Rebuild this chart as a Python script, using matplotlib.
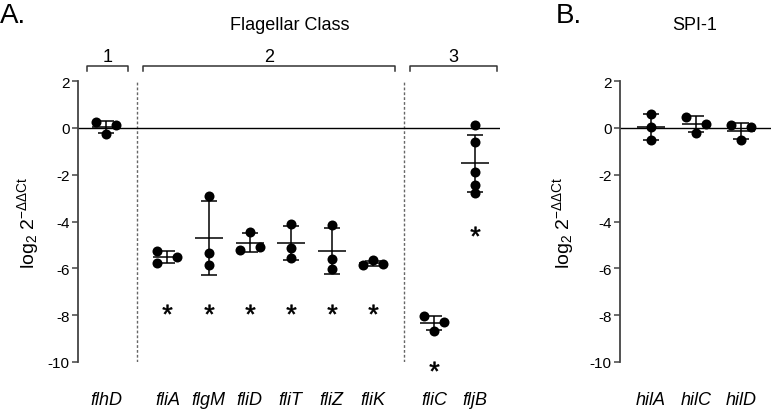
import numpy as np
import matplotlib
matplotlib.use("Agg")
import matplotlib.pyplot as plt

plt.rcParams['font.family'] = ['Liberation Sans', 'DejaVu Sans']
plt.rcParams['mathtext.fontset'] = 'custom'
plt.rcParams['mathtext.rm'] = 'Liberation Sans'
plt.rcParams['mathtext.it'] = 'Liberation Sans:italic'

# ---- data (log2 2^-ddCt) ----
genes_a = ['flhD', 'fliA', 'flgM', 'fliD', 'fliT', 'fliZ', 'fliK', 'fliC', 'fljB']
class_a = [1, 2, 2, 2, 2, 2, 2, 3, 3]
vals_a = [
    [0.27, 0.10, -0.26],
    [-5.27, -5.76, -5.52],
    [-2.89, -5.35, -5.87],
    [-4.45, -5.20, -5.09],
    [-4.12, -5.12, -5.54],
    [-4.15, -5.59, -6.01],
    [-5.66, -5.81, -5.87],
    [-8.05, -8.29, -8.67],
    [0.10, -0.61, -1.89, -2.42, -2.78],
]
star_a = [None, -7.72, -7.72, -7.72, -7.72, -7.72, -7.72, -10.15, -4.4]

genes_b = ['hilA', 'hilC', 'hilD']
vals_b = [
    [0.58, 0.05, -0.52],
    [0.48, 0.17, -0.20],
    [0.10, 0.04, -0.52],
]

yticks = [2, 0, -2, -4, -6, -8, -10]
ylabel = r'log$_2$ 2$^{\mathrm{-\Delta\Delta Ct}}$'


def px_scale(ax):
    p0 = ax.transData.transform([[0, 0]])[0]
    p1 = ax.transData.transform([[1, 1]])[0]
    return p1[0] - p0[0], abs(p1[1] - p0[1])


def scatter_offsets(ax, vals, dmin=8.0, spread=20.0):
    # column-style scatter: points closer than dmin px vertically get pushed
    # into side columns, each cluster is centred and fitted to `spread` px
    sx, sy = px_scale(ax)
    y = np.asarray(vals) * sy
    slots = []
    for i, yi in enumerate(y):
        taken = {slots[j] for j in range(i) if abs(y[j] - yi) < dmin}
        for k in [0, 1, -1, 2, -2, 3, -3]:
            if k not in taken:
                slots.append(k)
                break
    slots = np.array(slots, dtype=float)
    order = np.argsort(-y)
    clusters = [[order[0]]]
    for a, b in zip(order[:-1], order[1:]):
        if abs(y[a] - y[b]) < dmin:
            clusters[-1].append(b)
        else:
            clusters.append([b])
    off = np.zeros(len(y))
    for cl in clusters:
        s = slots[cl]
        lo, hi = s.min(), s.max()
        if hi > lo:
            off[cl] = (s - (lo + hi) / 2) * spread / (hi - lo)
    return off / sx


def draw_group(ax, x, vals, mean_hw=14, cap_hw=8):
    sx, _ = px_scale(ax)
    vals = np.asarray(vals)
    xs = x + scatter_offsets(ax, vals)
    ax.scatter(xs, vals, s=52, color='black', zorder=3, linewidths=0)
    m = vals.mean()
    s = vals.std(ddof=1)
    kw = dict(color='black', lw=1.1, zorder=4, solid_capstyle='butt')
    ax.plot([x - mean_hw / sx, x + mean_hw / sx], [m, m], **kw)
    ax.plot([x, x], [m - s, m + s], **kw)
    for e in (m - s, m + s):
        ax.plot([x - cap_hw / sx, x + cap_hw / sx], [e, e], **kw)


def style_axis(ax):
    for sp in ['top', 'right', 'bottom']:
        ax.spines[sp].set_visible(False)
    ax.spines['left'].set_color('#444444')
    ax.spines['left'].set_linewidth(1.3)
    ax.set_ylim(-10, 2)
    ax.set_yticks(yticks)
    ax.set_yticklabels([str(t) for t in yticks], fontsize=11)
    ax.tick_params(axis='y', length=4, width=1.1, color='#444444', pad=2)
    ax.tick_params(axis='x', length=0, pad=21)
    ax.axhline(0, color='black', lw=1.0, zorder=2)


W, H = 771, 414
fig = plt.figure(figsize=(W / 100, H / 100), dpi=100)

# ---- panel A ----
axA = fig.add_axes([78 / W, 1 - 363 / H, 422 / W, 281 / H])
axA.set_xlim(-0.68, 9.6)
style_axis(axA)
pos_a = [i + 0.5 * (c - 1) for i, c in enumerate(class_a)]
for x, v in zip(pos_a, vals_a):
    draw_group(axA, x, v)
star_x = [x for x, sy in zip(pos_a, star_a) if sy is not None]
star_y = [sy for sy in star_a if sy is not None]
axA.scatter(star_x, star_y, marker='$*$', s=48, color='black', linewidths=0.4,
            edgecolors='black', clip_on=False, zorder=3)
axA.set_xticks(pos_a)
axA.set_xticklabels(genes_a, fontstyle='italic', fontsize=13)

# class separators and brackets
for c in sorted(set(class_a))[:-1]:
    last = max(p for p, k in zip(pos_a, class_a) if k == c)
    nxt = min(p for p, k in zip(pos_a, class_a) if k == c + 1)
    axA.plot([(last + nxt) / 2] * 2, [-10, 2], color='#666666', lw=1.0,
             ls=(0, (2, 1.5)), zorder=1)
for c in sorted(set(class_a)):
    ps = [p for p, k in zip(pos_a, class_a) if k == c]
    x0 = min(ps) - (0.45 if c == 1 else 0.59)
    x1 = max(ps) + 0.53
    axA.plot([x0, x0, x1, x1], [2.44, 2.66, 2.66, 2.44], color='#333333', lw=1.1,
             clip_on=False)
    axA.text((x0 + x1) / 2, 3.06, str(c), ha='center', va='center', fontsize=13,
             clip_on=False)
axA.set_ylabel(ylabel, fontsize=14, va='center')
axA.yaxis.set_label_coords(-50 / 422, 0.5)

# ---- panel B ----
axB = fig.add_axes([620 / W, 1 - 363 / H, 151 / W, 281 / H])
axB.set_xlim(-0.69, 2.67)
style_axis(axB)
pos_b = list(range(len(genes_b)))
for x, v in zip(pos_b, vals_b):
    draw_group(axB, x, v)
axB.set_xticks(pos_b)
axB.set_xticklabels(genes_b, fontstyle='italic', fontsize=13)
axB.set_ylabel(ylabel, fontsize=14, va='center')
axB.yaxis.set_label_coords(-57 / 151, 0.5)

# ---- titles ----
fig.text(0.0, 1 - 16 / H, 'A.', fontsize=20, va='center', ha='left')
fig.text(556 / W, 1 - 16 / H, 'B.', fontsize=20, va='center', ha='left')
fig.text(290 / W, 1 - 25 / H, 'Flagellar Class', fontsize=13, va='center', ha='center')
fig.text(695 / W, 1 - 25 / H, 'SPI-1', fontsize=13, va='center', ha='center')

fig.savefig('out.png', dpi=100)
